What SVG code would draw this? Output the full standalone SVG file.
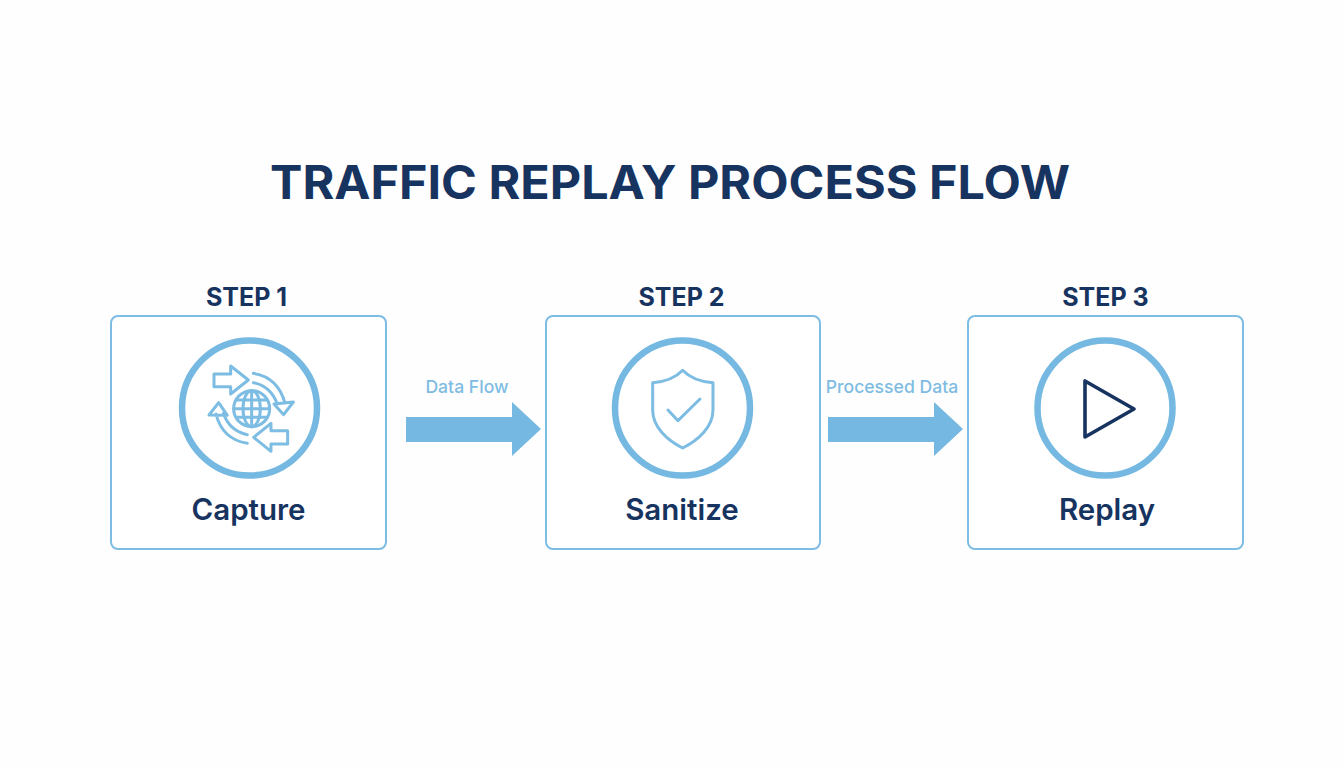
<svg xmlns="http://www.w3.org/2000/svg" width="1344" height="768" viewBox="0 0 1344 768">
<style>
text{font-family:Inter,"Liberation Sans",sans-serif;text-anchor:middle}
.title{font-size:46px;font-weight:700;fill:#17335f}
.step{font-size:25px;font-weight:700;fill:#17335f}
.name{font-size:29.5px;font-weight:600;fill:#17335f}
.flow{font-size:17.6px;font-weight:500;fill:#7fbce2}
.box{fill:#fff;stroke:#7dbde3;stroke-width:2}
.ring{fill:none;stroke:#75b8e1;stroke-width:6.5}
.ico{fill:none;stroke:#7dbde3;stroke-width:9;stroke-linejoin:round;stroke-linecap:round}
.arrow{fill:#75b8e1}
</style>
<rect width="1344" height="768" fill="#fefefe"/>
<text class="title" x="670" y="199" textLength="800" lengthAdjust="spacingAndGlyphs">TRAFFIC REPLAY PROCESS FLOW</text>
<g id="connectors">
<polygon class="arrow" points="406,417 512,417 512,402 541,429 512,456 512,442 406,442"/>
<polygon class="arrow" points="828,417 934,417 934,402 963,429 934,456 934,442 828,442"/>
<text class="flow" x="467" y="393">Data Flow</text>
<text class="flow" x="892" y="393">Processed Data</text>
</g>
<g id="step1">
<text class="step" x="246.500" y="306">STEP 1</text>
<rect class="box" x="111" y="316" width="275" height="233" rx="7"/>
<circle class="ring" cx="249.500" cy="408" r="67.500"/>
<g transform="translate(170,330) scale(.3333)">
<path class="ico" d="M132 132H182V108L235 150L182 192V170H132Z"/>
<path class="ico" d="M353 342H303V364L251 322L303 280V302H353Z"/>
<path class="ico" d="M250 130C300 138 332 170 345 220M250 158C285 165 310 190 322 222M312 222L341 254L370 216Z"/>
<path class="ico" d="M232 340C182 332 150 300 138 252M232 314C197 307 172 284 160 250M117 255L146 218L172 256Z"/>
<circle class="ico" cx="245" cy="236" r="54"/>
<ellipse class="ico" cx="245" cy="236" rx="26" ry="54"/>
<path class="ico" d="M245 182V290M191 236H299M199 210H291M199 262H291"/>
</g>
<text class="name" x="248.500" y="520">Capture</text>
</g>
<g id="step2">
<text class="step" x="681.500" y="306">STEP 2</text>
<rect class="box" x="546" y="316" width="274" height="233" rx="7"/>
<circle class="ring" cx="682.500" cy="408" r="67.500"/>
<g transform="translate(600,330) scale(.3333)">
<path class="ico" d="M248 121C228 142 195 156 158 158V240C158 290 200 330 248 354C296 330 339 290 339 240V158C302 156 268 142 248 121Z"/>
<path class="ico" d="M204 240L234 272L300 207"/>
</g>
<text class="name" x="682" y="520">Sanitize</text>
</g>
<g id="step3">
<text class="step" x="1105.500" y="306">STEP 3</text>
<rect class="box" x="968" y="316" width="275" height="233" rx="7"/>
<circle class="ring" cx="1105" cy="408" r="67.500"/>
<path d="M1085 381V437L1134 409Z" fill="none" stroke="#17335f" stroke-width="3.600" stroke-linejoin="round"/>
<text class="name" x="1107" y="520">Replay</text>
</g>
</svg>
